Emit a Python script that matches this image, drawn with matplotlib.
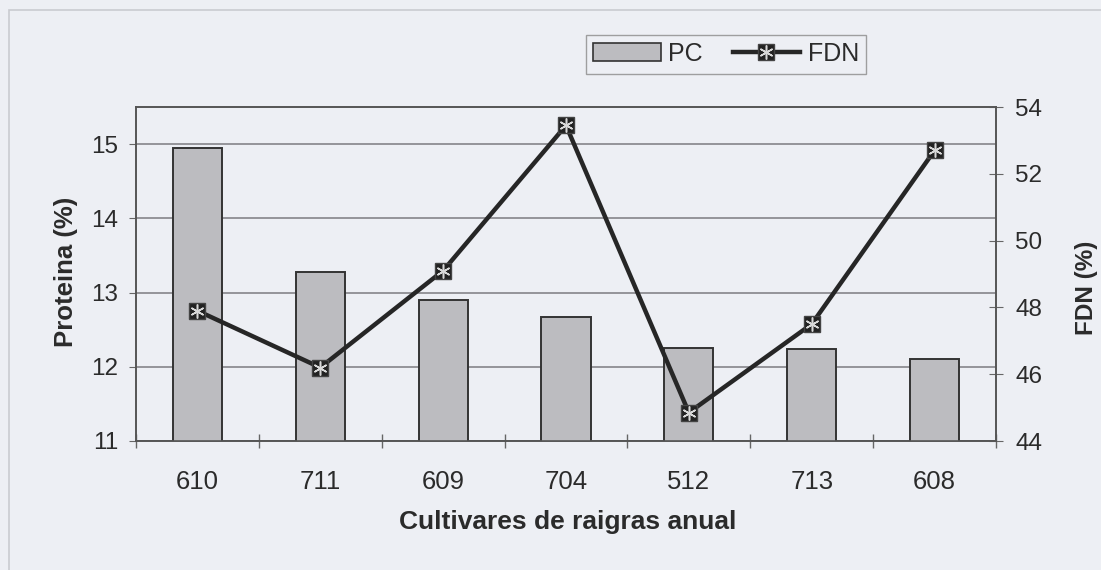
import matplotlib
matplotlib.use("Agg")
import matplotlib.pyplot as plt
from matplotlib.patches import Rectangle

categories = ["610", "711", "609", "704", "512", "713", "608"]
pc_values = [14.95, 13.28, 12.90, 12.67, 12.25, 12.24, 12.10]
fdn_values = [47.9, 46.2, 49.1, 53.45, 44.85, 47.5, 52.7]
left_ticks = [11, 12, 13, 14, 15]
right_ticks = [44, 46, 48, 50, 52, 54]

plt.rcParams['font.family'] = ['Liberation Sans', 'DejaVu Sans']
bg = '#edeff4'
txt = '#2b2b2b'
W, H = 1101, 570

fig = plt.figure(figsize=(W / 100, H / 100), dpi=100, facecolor=bg)
# outer chart-area border (faint)
fig.patches.append(Rectangle((9 / W, -0.05), 1.2, 1 - 10 / H + 0.05,
                             transform=fig.transFigure, fill=False,
                             edgecolor='#c9cbd0', linewidth=1.2))

ax = fig.add_axes([136 / W, 129 / H, 860 / W, 334 / H])
ax.set_facecolor(bg)
x = list(range(len(categories)))
ax.bar(x, pc_values, width=0.4, color='#bcbcc0', edgecolor='#333333',
       linewidth=1.4, zorder=3, label='PC')
ax.set_xlim(-0.5, len(categories) - 0.5)
ax.set_ylim(11, 15.5)
ax.set_yticks(left_ticks)
ax.yaxis.grid(True, color='#7c7c80', linewidth=1.1, zorder=0)
ax.set_axisbelow(True)
ax.set_xticks(x)
ax.set_xticklabels(categories)
ax.set_xticks([i - 0.5 for i in range(len(categories) + 1)], minor=True)
ax.tick_params(axis='x', which='major', length=0, pad=21, labelsize=18.5,
               labelcolor=txt)
ax.tick_params(axis='x', which='minor', length=10, direction='inout',
               color='#666666', width=1)
ax.tick_params(axis='y', which='major', length=5, direction='out', pad=8,
               labelsize=17.5, labelcolor=txt, color='#666666')
for s in ax.spines.values():
    s.set_color('#555555')
    s.set_linewidth(1.2)

ax2 = ax.twinx()
ax2.set_ylim(44, 54)
ax2.set_yticks(right_ticks)
ax2.tick_params(axis='y', length=10, direction='inout', pad=9,
                labelsize=17.5, labelcolor=txt, color='#666666')
for s in ax2.spines.values():
    s.set_color('#555555')
    s.set_linewidth(1.2)
line, = ax2.plot(x, fdn_values, color='#262626', linewidth=3.2,
                 marker='s', markersize=11, markerfacecolor='#222222',
                 markeredgecolor='#444444', zorder=4)
star, = ax2.plot(x, fdn_values, linestyle='none', marker=(6, 2, 0),
                 markersize=10, markeredgecolor='#d8d8d8',
                 markeredgewidth=1.1, zorder=5)

fig.text(568 / W, 1 - 522 / H, 'Cultivares de raigras anual', ha='center',
         va='center', fontsize=19, fontweight='bold', color=txt)
fig.text(66 / W, 1 - 272 / H, 'Proteina (%)', ha='center', va='center',
         rotation=90, fontsize=18.5, fontweight='bold', color=txt)
fig.text(1086 / W, 1 - 288 / H, 'FDN (%)', ha='center', va='center',
         rotation=90, fontsize=17.5, fontweight='bold', color=txt)

bar_handle = Rectangle((0, 0), 1, 1, facecolor='#bcbcc0', edgecolor='#333333',
                       linewidth=1.2)
leg = fig.legend([bar_handle, (line, star)], ['PC', 'FDN'], ncol=2,
                 loc='center', bbox_to_anchor=(726 / W, 1 - 54 / H),
                 fontsize=18, frameon=True, fancybox=False,
                 edgecolor='#8a8a8a', facecolor=bg, handlelength=2.7,
                 handleheight=0.75, columnspacing=1.2, handletextpad=0.3,
                 borderpad=0.3)
leg.get_frame().set_linewidth(1.0)
for t in leg.get_texts():
    t.set_color(txt)

fig.savefig('out.png', dpi=100, facecolor=bg)
